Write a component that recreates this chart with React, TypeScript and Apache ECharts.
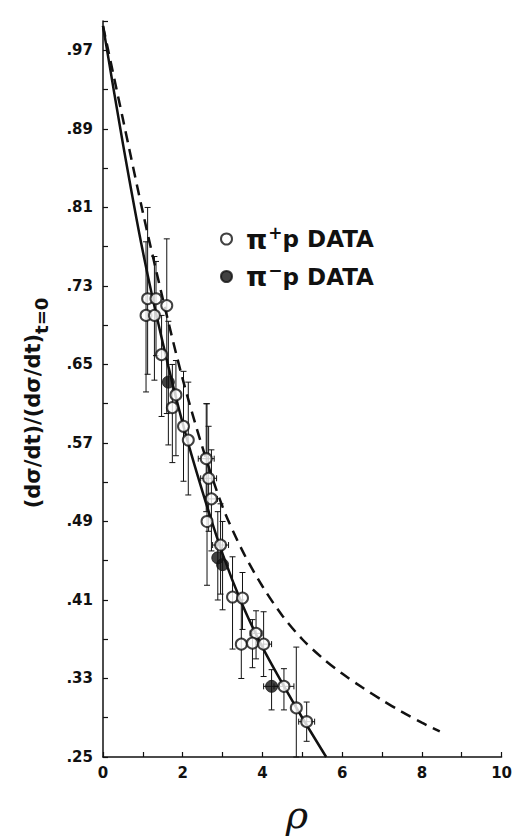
import React, { useEffect, useRef } from 'react';
import * as echarts from 'echarts';

// ---------- data ----------
const xTickValues = [0, 2, 4, 6, 8, 10];
const yTickLabels = ['.25', '.33', '.41', '.49', '.57', '.65', '.73', '.81', '.89', '.97'];

// pi+ p data (open circles)
const plusRho = [1.08, 1.29, 1.12, 1.33, 1.60, 1.47, 1.83, 1.74, 2.02, 2.14, 2.59, 2.65, 2.72, 2.61, 2.95, 3.25, 3.50, 3.84, 3.47, 3.75, 4.03, 4.54, 4.85, 5.11];
const plusVal = [0.700, 0.700, 0.717, 0.717, 0.710, 0.660, 0.619, 0.606, 0.587, 0.573, 0.554, 0.534, 0.513, 0.490, 0.466, 0.413, 0.412, 0.376, 0.365, 0.366, 0.365, 0.322, 0.300, 0.286];
const plusLo = [0.622, 0.634, 0.640, 0.659, 0.600, 0.597, 0.557, 0.550, 0.531, 0.517, 0.500, 0.480, 0.460, 0.425, 0.416, 0.360, 0.380, 0.350, 0.330, 0.341, 0.332, 0.298, 0.250, 0.266];
const plusHi = [0.775, 0.760, 0.810, 0.755, 0.778, 0.700, 0.654, 0.650, 0.643, 0.632, 0.610, 0.587, 0.563, 0.610, 0.508, 0.454, 0.438, 0.399, 0.410, 0.390, 0.398, 0.340, 0.362, 0.306];
const plusXErr = [0, 0, 0, 0, 0, 0, 0, 0, 0, 0, 0.2, 0.2, 0.15, 0, 0.2, 0, 0, 0.15, 0, 0, 0.2, 0.25, 0, 0.2];

// pi- p data (filled circles)
const minusRho = [1.64, 2.88, 3.00, 4.23];
const minusVal = [0.632, 0.453, 0.446, 0.322];
const minusLo = [0.568, 0.410, 0.400, 0.298];
const minusHi = [0.694, 0.500, 0.490, 0.339];
const minusXErr = [0, 0, 0, 0.2];

// solid fitted curve
const solidRho = [0, 0.5, 1.0, 1.5, 2.0, 2.5, 3.0, 3.5, 4.0, 4.5, 5.0, 5.6];
const solidVal = [0.995, 0.875, 0.765, 0.672, 0.59, 0.52, 0.457, 0.405, 0.362, 0.325, 0.29, 0.25];

// dashed curve
const dashRho = [0, 0.5, 1.0, 1.5, 2.0, 2.5, 3.0, 3.5, 4.0, 4.5, 5.0, 5.5, 6.0, 6.5, 7.0, 7.5, 8.0, 8.45];
const dashVal = [0.995, 0.9, 0.805, 0.717, 0.635, 0.565, 0.505, 0.46, 0.424, 0.394, 0.37, 0.351, 0.335, 0.321, 0.308, 0.296, 0.285, 0.276];

// ---------- helpers ----------
const Y0 = 0.25;
const toY = (v: number) => Math.round((v - Y0) * 100000) / 1000; // axis units: hundredths above .25

const INK = '#111';
const FONT = 'DejaVu Sans';

function errData(rho: number[], val: number[], lo: number[], hi: number[], xe: number[]) {
  return rho.map((r, i) => [r, toY(val[i]), toY(lo[i]), toY(hi[i]), xe[i]]);
}

function renderErr(params: any, api: any) {
  const x = api.value(0);
  const y = api.value(1);
  const lo = api.value(2);
  const hi = api.value(3);
  const xe = api.value(4);
  const pLo = api.coord([x, lo]);
  const pHi = api.coord([x, hi]);
  const cap = 3;
  const st = { stroke: INK, lineWidth: 1 };
  const children: any[] = [
    { type: 'line', shape: { x1: pLo[0], y1: pLo[1], x2: pHi[0], y2: pHi[1] }, style: st },
    { type: 'line', shape: { x1: pLo[0] - cap, y1: pLo[1], x2: pLo[0] + cap, y2: pLo[1] }, style: st },
    { type: 'line', shape: { x1: pHi[0] - cap, y1: pHi[1], x2: pHi[0] + cap, y2: pHi[1] }, style: st },
  ];
  if (xe > 0) {
    const pl = api.coord([x - xe, y]);
    const pr = api.coord([x + xe, y]);
    children.push(
      { type: 'line', shape: { x1: pl[0], y1: pl[1], x2: pr[0], y2: pr[1] }, style: st },
      { type: 'line', shape: { x1: pl[0], y1: pl[1] - cap, x2: pl[0], y2: pl[1] + cap }, style: st },
      { type: 'line', shape: { x1: pr[0], y1: pr[1] - cap, x2: pr[0], y2: pr[1] + cap }, style: st },
    );
  }
  return { type: 'group', children };
}

export default function App() {
  const ref = useRef<HTMLDivElement>(null);

  useEffect(() => {
    if (!ref.current) return;
    const chart = echarts.init(ref.current, undefined, { renderer: 'svg' });

    const labelSet = new Set(yTickLabels);
    const fmtY = (v: number) => {
      const s = ((v + 25) / 100).toFixed(2).replace(/^0/, '');
      return labelSet.has(s) && Math.abs(v % 8) < 1e-6 ? s : '';
    };

    const option: any = {
      animation: false,
      backgroundColor: '#fff',
      grid: { left: 103, right: 9, top: 21, bottom: 79, containLabel: false },
      xAxis: {
        type: 'value',
        min: 0,
        max: 10,
        interval: 1,
        splitLine: { show: false },
        axisLine: { show: true, lineStyle: { color: INK, width: 1.5 } },
        axisTick: { show: true, inside: true, length: 5, lineStyle: { color: INK, width: 1.2 } },
        axisLabel: {
          show: true,
          interval: 0,
          margin: 8,
          color: INK,
          fontFamily: FONT,
          fontWeight: 'bold',
          fontSize: 15,
          formatter: (v: number) => (xTickValues.indexOf(v) >= 0 ? String(v) : ''),
        },
      },
      yAxis: {
        type: 'value',
        min: 0,
        max: 75,
        interval: 4,
        splitLine: { show: false },
        axisLine: { show: true, lineStyle: { color: INK, width: 1.5 } },
        axisTick: { show: true, inside: true, length: 5, lineStyle: { color: INK, width: 1.2 } },
        axisLabel: {
          show: true,
          interval: 0,
          margin: 10,
          color: INK,
          fontFamily: FONT,
          fontWeight: 'bold',
          fontSize: 15,
          formatter: fmtY,
        },
      },
      legend: {
        show: true,
        orient: 'vertical',
        left: 215,
        top: 219,
        itemGap: 9,
        itemWidth: 11,
        itemHeight: 11,
        data: [
          { name: 'plus', icon: 'circle' },
          { name: 'minus', icon: 'circle' },
        ],
        formatter: (name: string) =>
          name === 'plus' ? '{pi|π}{sup|+}{p|p DATA}' : '{pi|π}{sup|−}{p|p DATA}',
        textStyle: {
          color: INK,
          fontFamily: FONT,
          fontWeight: 'bold',
          fontSize: 23,
          rich: {
            pi: { fontFamily: FONT, fontWeight: 'bold', fontSize: 27, color: INK, padding: [0, 1, 0, 9], lineHeight: 30, verticalAlign: 'middle' },
            sup: { fontFamily: FONT, fontWeight: 'bold', fontSize: 17, color: INK, lineHeight: 30, verticalAlign: 'top' },
            p: { fontFamily: FONT, fontWeight: 'bold', fontSize: 23, color: INK, lineHeight: 30, verticalAlign: 'middle' },
          },
        },
      },
      graphic: [
        {
          type: 'text',
          x: 33,
          y: 403,
          rotation: Math.PI / 2,
          style: {
            text: '{m|(dσ/dt)/(dσ/dt)}{s|t=0}',
            align: 'center',
            verticalAlign: 'middle',
            fill: INK,
            rich: {
              m: { fontFamily: FONT, fontWeight: 'bold', fontSize: 21, fill: INK, lineHeight: 34, verticalAlign: 'middle' },
              s: { fontFamily: FONT, fontWeight: 'bold', fontSize: 18, fill: INK, lineHeight: 34, verticalAlign: 'bottom' },
            },
          },
        },
        {
          type: 'text',
          x: 297,
          y: 815,
          style: {
            text: 'ρ',
            align: 'center',
            verticalAlign: 'middle',
            fill: INK,
            fontFamily: 'DejaVu Serif',
            fontStyle: 'italic',
            fontSize: 38,
          },
        },
      ],
      series: [
        {
          name: 'solid',
          type: 'line',
          data: solidRho.map((r, i) => [r, toY(solidVal[i])]),
          showSymbol: false,
          smooth: 0.3,
          lineStyle: { color: INK, width: 2.5 },
          z: 3,
          silent: true,
        },
        {
          name: 'dashed',
          type: 'line',
          data: dashRho.map((r, i) => [r, toY(dashVal[i])]),
          showSymbol: false,
          smooth: 0.3,
          lineStyle: { color: INK, width: 2.5, type: [11, 7] },
          z: 3,
          silent: true,
        },
        {
          name: 'plusErr',
          type: 'custom',
          renderItem: renderErr,
          data: errData(plusRho, plusVal, plusLo, plusHi, plusXErr),
          encode: { x: 0, y: 1 },
          z: 4,
          silent: true,
        },
        {
          name: 'minusErr',
          type: 'custom',
          renderItem: renderErr,
          data: errData(minusRho, minusVal, minusLo, minusHi, minusXErr),
          encode: { x: 0, y: 1 },
          z: 4,
          silent: true,
        },
        {
          name: 'plus',
          type: 'scatter',
          data: plusRho.map((r, i) => [r, toY(plusVal[i])]),
          symbol: 'circle',
          symbolSize: 11,
          itemStyle: { color: '#fff', borderColor: INK, borderWidth: 2 },
          z: 6,
        },
        {
          name: 'minus',
          type: 'scatter',
          data: minusRho.map((r, i) => [r, toY(minusVal[i])]),
          symbol: 'circle',
          symbolSize: 12,
          itemStyle: { color: INK, borderColor: INK, borderWidth: 1 },
          z: 6,
        },
      ],
    };

    chart.setOption(option);
    return () => chart.dispose();
  }, []);

  return (
    <div
      ref={ref}
      style={{ position: 'fixed', left: 0, top: 0, width: 515, height: 836, background: '#fff' }}
    />
  );
}
